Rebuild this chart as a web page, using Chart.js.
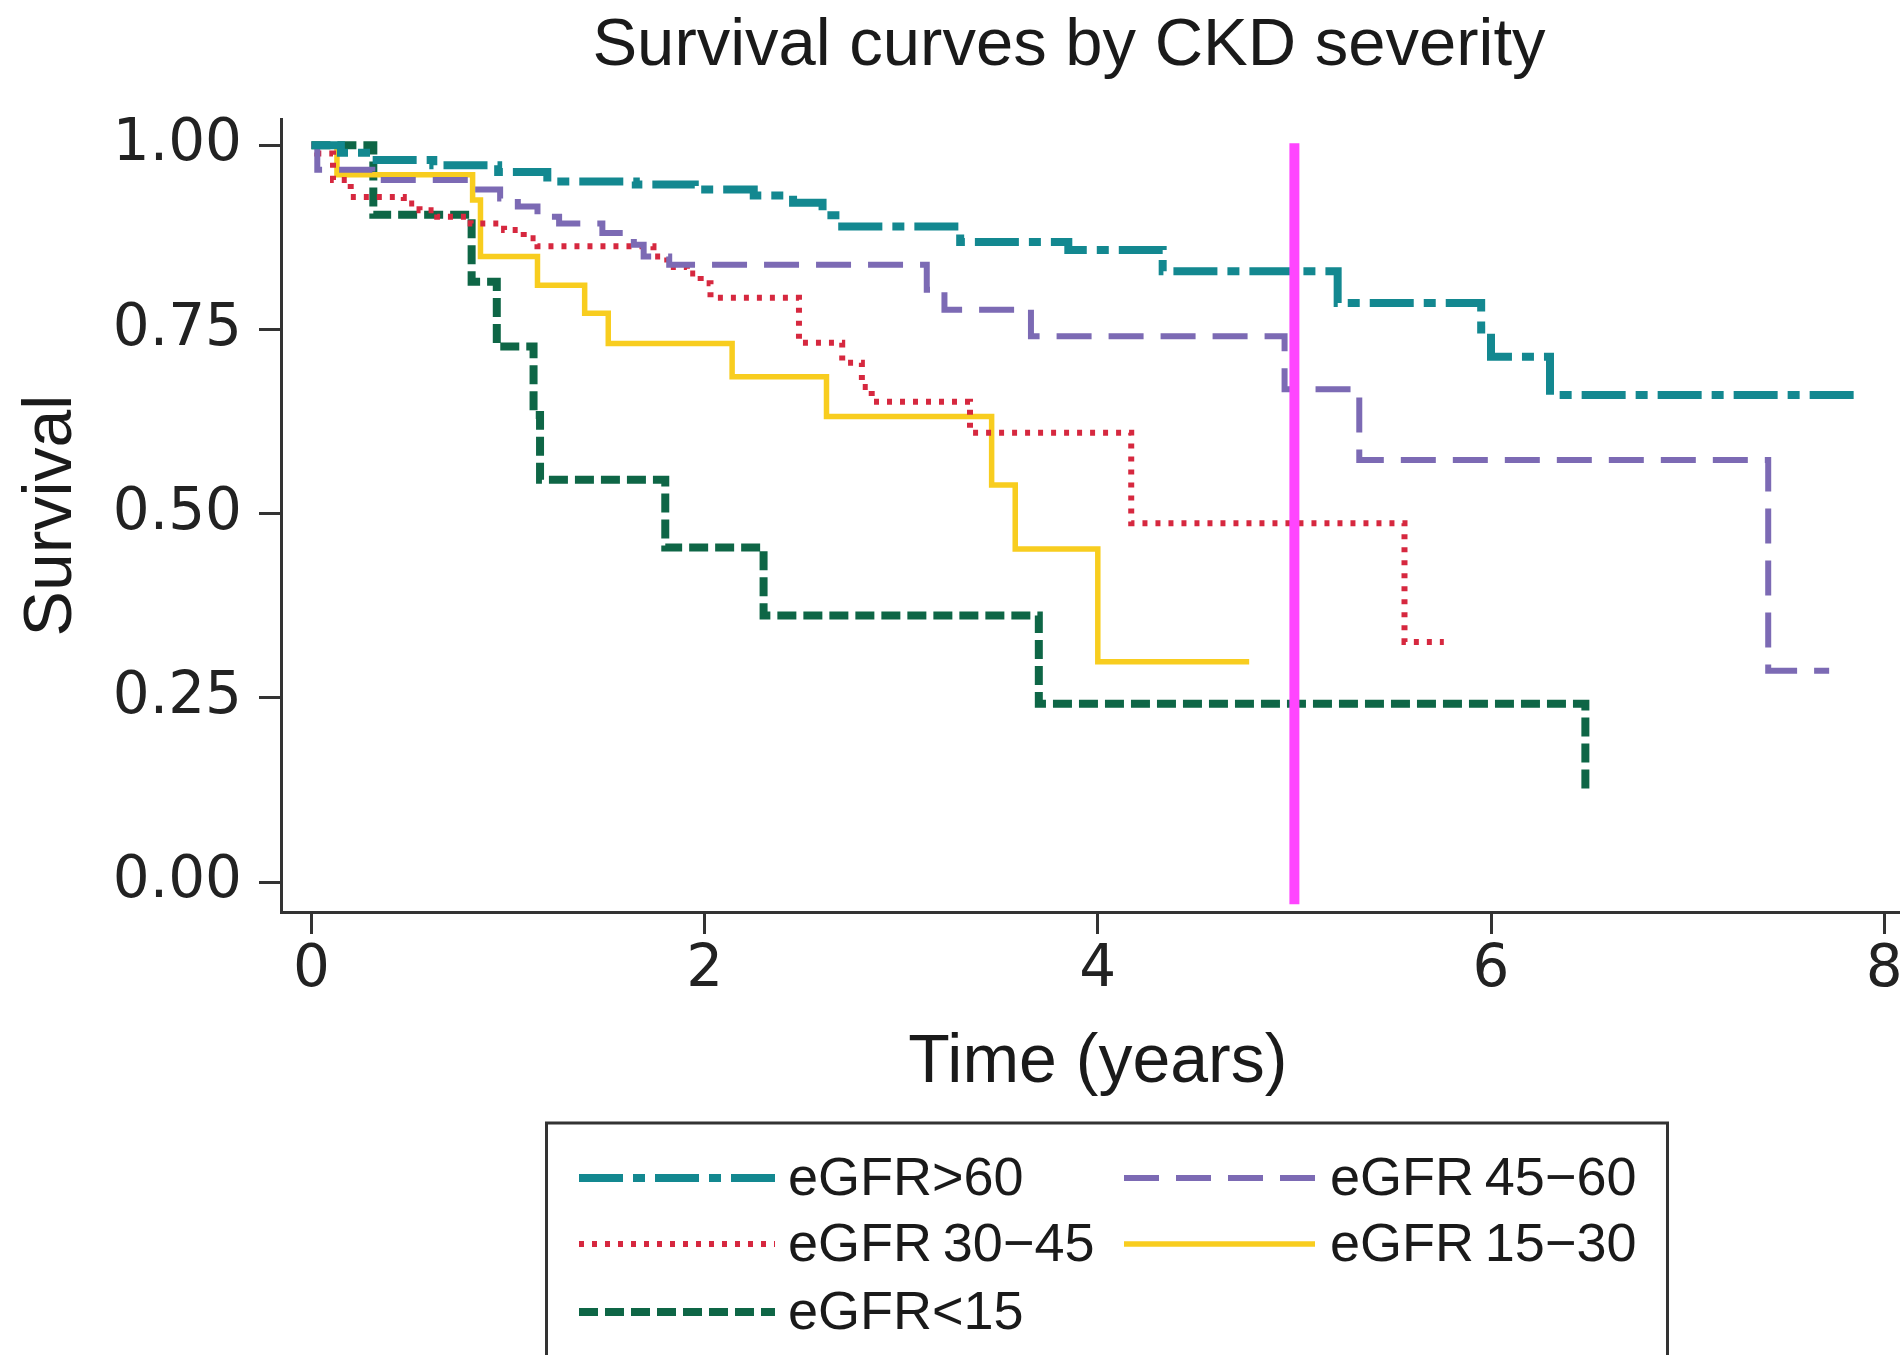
<!DOCTYPE html>
<html>
<head>
<meta charset="utf-8">
<title>Survival curves by CKD severity</title>
<script src="https://cdn.jsdelivr.net/npm/chart.js@4.4.1/dist/chart.umd.min.js"></script>
<style>
  html, body { margin: 0; padding: 0; background: #fff; overflow: hidden; }
  .card_charts { width: 1960px; height: 1355px; position: relative; }
</style>
</head>
<body>
<div class="card_charts"><canvas id="kmChart"></canvas></div>
<script>
// Kaplan-Meier step points: time (years) and survival
const chartTitle = "Survival curves by CKD severity";
const groupLabels = ["eGFR>60", "eGFR\u200945\u221260", "eGFR\u200930\u221245", "eGFR\u200915\u221230", "eGFR<15"];

const timeGt60 = [0, 0.15, 0.30, 0.62, 0.95, 1.20, 1.65, 1.95, 2.25, 2.45, 2.60, 2.70, 3.30, 3.85, 4.33, 5.22, 5.95, 6.00, 6.30, 7.88];
const survGt60 = [1.0, 0.99, 0.98, 0.973, 0.964, 0.951, 0.947, 0.94, 0.932, 0.922, 0.905, 0.89, 0.869, 0.858, 0.829, 0.786, 0.75, 0.713, 0.661, 0.661];

const time4560 = [0, 0.03, 0.31, 0.82, 0.96, 1.05, 1.15, 1.26, 1.48, 1.64, 1.69, 1.82, 3.13, 3.22, 3.66, 4.95, 5.33, 7.41, 7.72];
const surv4560 = [1.0, 0.967, 0.953, 0.94, 0.928, 0.917, 0.903, 0.894, 0.881, 0.865, 0.849, 0.838, 0.804, 0.777, 0.741, 0.669, 0.573, 0.287, 0.287];

const time3045 = [0, 0.03, 0.11, 0.20, 0.47, 0.55, 0.64, 0.81, 0.98, 1.08, 1.15, 1.74, 1.81, 1.91, 1.98, 2.03, 2.48, 2.70, 2.80, 2.85, 3.35, 4.17, 5.56, 5.76];
const surv3045 = [1.0, 0.989, 0.953, 0.93, 0.921, 0.912, 0.903, 0.894, 0.885, 0.874, 0.863, 0.849, 0.835, 0.826, 0.813, 0.793, 0.732, 0.705, 0.672, 0.652, 0.610, 0.487, 0.326, 0.326];

const time1530 = [0, 0.13, 0.82, 0.86, 1.15, 1.39, 1.51, 2.14, 2.62, 3.46, 3.58, 4.00, 4.77];
const surv1530 = [1.0, 0.96, 0.926, 0.849, 0.81, 0.772, 0.731, 0.686, 0.632, 0.539, 0.452, 0.299, 0.299];

const timeLt15 = [0, 0.315, 0.815, 0.943, 1.13, 1.163, 1.80, 2.30, 3.70, 6.48];
const survLt15 = [1.0, 0.906, 0.815, 0.727, 0.634, 0.546, 0.454, 0.362, 0.242, 0.12];

// vertical marker at 5 years
const markerTime = [5, 5];
const markerSurv = [1.003, -0.03];

const xTicks = [0, 2, 4, 6, 8];
const yTicks = [0, 0.25, 0.5, 0.75, 1.0];

function series(t, s) {
  return t.map((x, i) => ({ x: x, y: s[i] }));
}

const titleAndLegend = {
  id: "titleAndLegend",
  afterDraw(chart) {
    const ctx = chart.ctx;
    ctx.save();
    ctx.fillStyle = "#1a1a1a";
    ctx.textBaseline = "middle";
    ctx.textAlign = "center";
    ctx.font = '67px "Liberation Sans", Arial, sans-serif';
    ctx.fillText(chartTitle, 1069, 47);

    // legend box
    ctx.strokeStyle = "#333";
    ctx.lineWidth = 3;
    ctx.strokeRect(546.5, 1123, 1121, 320);

    const cols = [{ x0: 579, x1: 775, tx: 788 }, { x0: 1124, x1: 1315, tx: 1330 }];
    const rows = [1178, 1244, 1312];
    ctx.textAlign = "left";
    ctx.font = '54px "Liberation Sans", Arial, sans-serif';
    let n = 0;
    chart.data.datasets.forEach(ds => {
      if (ds.hideInLegend) return;
      const c = cols[n % 2], y = rows[Math.floor(n / 2)];
      ctx.save();
      ctx.strokeStyle = ds.borderColor;
      ctx.lineWidth = ds.borderWidth;
      ctx.setLineDash(ds.borderDash || []);
      ctx.beginPath();
      ctx.moveTo(c.x0, y);
      ctx.lineTo(c.x1, y);
      ctx.stroke();
      ctx.restore();
      ctx.fillStyle = "#1a1a1a";
      ctx.fillText(ds.label, c.tx, y + 2);
      n++;
    });
    ctx.restore();
  }
};

const lineCommon = { stepped: "before", pointRadius: 0, borderCapStyle: "butt", fill: false };

new Chart(document.getElementById("kmChart"), {
  type: "line",
  data: {
    datasets: [
      { ...lineCommon, label: "marker", data: series(markerTime, markerSurv), stepped: false,
        borderColor: "#FF45FF", borderWidth: 10, order: -1, hideInLegend: true },
      { ...lineCommon, label: groupLabels[0], data: series(timeGt60, survGt60),
        borderColor: "#138890", borderWidth: 8, borderDash: [44, 10, 12, 10] },
      { ...lineCommon, label: groupLabels[1], data: series(time4560, surv4560),
        borderColor: "#7C6AB4", borderWidth: 6, borderDash: [35, 17] },
      { ...lineCommon, label: groupLabels[2], data: series(time3045, surv3045),
        borderColor: "#D6283F", borderWidth: 6, borderDash: [5, 8] },
      { ...lineCommon, label: groupLabels[3], data: series(time1530, surv1530),
        borderColor: "#F8CD1F", borderWidth: 5.5 },
      { ...lineCommon, label: groupLabels[4], data: series(timeLt15, survLt15),
        borderColor: "#0E6646", borderWidth: 8, borderDash: [19, 7] }
    ]
  },
  options: {
    responsive: true,
    maintainAspectRatio: false,
    animation: false,
    layout: { padding: { left: 0, right: 45.4, top: 119, bottom: 243 } },
    plugins: { legend: { display: false }, tooltip: { enabled: false }, title: { display: false } },
    scales: {
      x: {
        type: "linear",
        min: -0.1546,
        max: 8.1546,
        afterFit: s => { s.height = 200; },
        afterBuildTicks: s => { s.ticks = xTicks.map(v => ({ value: v })); },
        grid: { drawOnChartArea: false, tickLength: 22, tickWidth: 3, tickColor: "#333" },
        border: { display: true, color: "#333", width: 3 },
        ticks: {
          font: { family: "DejaVu Sans", size: 58 }, color: "#222", padding: 2,
          maxRotation: 0, autoSkip: false, callback: v => String(v)
        },
        title: {
          display: true, text: "Time (years)", color: "#1a1a1a",
          font: { family: "Liberation Sans", size: 68 }, padding: { top: 0, bottom: 8 }
        }
      },
      y: {
        min: -0.0406,
        max: 1.0358,
        afterFit: s => { s.width = 281; },
        afterBuildTicks: s => { s.ticks = yTicks.map(v => ({ value: v })); },
        grid: { drawOnChartArea: false, tickLength: 22, tickWidth: 3, tickColor: "#333" },
        border: { display: true, color: "#333", width: 3 },
        ticks: {
          font: { family: "DejaVu Sans", size: 58 }, color: "#222", padding: 17,
          callback: v => Number(v).toFixed(2)
        },
        title: {
          display: true, text: "Survival", color: "#1a1a1a",
          font: { family: "Liberation Sans", size: 68 }, padding: { top: 11, bottom: 0 }
        }
      }
    }
  },
  plugins: [titleAndLegend]
});
</script>
</body>
</html>
